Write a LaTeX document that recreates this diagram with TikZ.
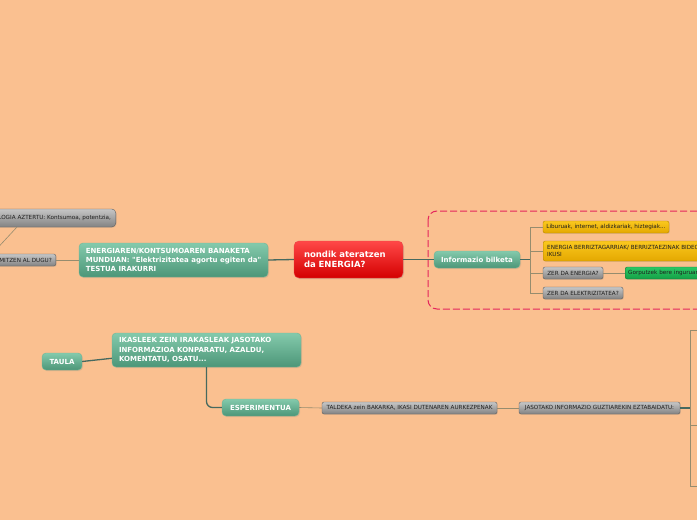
\documentclass[tikz,border=0pt]{standalone}
\usepackage{fontspec}
\setmainfont{DejaVu Sans}
\usepackage{tikz}
\usetikzlibrary{positioning,shadows}
\usepackage{xcolor}
\definecolor{paper}{RGB}{250,192,144}
\definecolor{coretop}{RGB}{255,72,72}
\definecolor{corebot}{RGB}{212,0,0}
\definecolor{coreedge}{RGB}{235,70,70}
\definecolor{topictop}{RGB}{132,202,172}
\definecolor{topicbot}{RGB}{76,150,120}
\definecolor{topicedge}{RGB}{112,182,152}
\definecolor{notetop}{RGB}{198,198,198}
\definecolor{notebot}{RGB}{130,130,130}
\definecolor{noteedge}{RGB}{95,95,95}
\definecolor{notetext}{RGB}{30,30,30}
\definecolor{goldtop}{RGB}{250,200,30}
\definecolor{goldbot}{RGB}{228,168,0}
\definecolor{goldedge}{RGB}{185,135,0}
\definecolor{leaftop}{RGB}{45,200,100}
\definecolor{leafbot}{RGB}{20,160,70}
\definecolor{leafedge}{RGB}{20,115,50}
\definecolor{trunkcol}{RGB}{70,105,95}
\definecolor{twigcol}{RGB}{150,140,110}
\definecolor{framecol}{RGB}{228,38,92}

\begin{document}
\begin{tikzpicture}[x=1pt, y=-1pt,
    mapbox/.style={rounded corners=3pt, inner xsep=3pt, inner ysep=0pt, align=center},
    corebox/.style={mapbox, rounded corners=5pt, draw=coreedge, top color=coretop, bottom color=corebot,
        text=white, font=\fontsize{8.5}{10.5}\selectfont\bfseries,
        drop shadow={opacity=0.25, shadow xshift=1pt, shadow yshift=-1pt}},
    topicbox/.style={mapbox, rounded corners=4pt, draw=topicedge, top color=topictop, bottom color=topicbot,
        text=white, font=\fontsize{7}{9.3}\selectfont\bfseries,
        drop shadow={opacity=0.2, shadow xshift=1pt, shadow yshift=-1pt}},
    notebox/.style={mapbox, rounded corners=2pt, draw=noteedge, top color=notetop, bottom color=notebot,
        text=notetext, font=\fontsize{5.65}{6.7}\selectfont,
        drop shadow={opacity=0.2, shadow xshift=0.8pt, shadow yshift=-0.8pt}},
    goldbox/.style={notebox, draw=goldedge, top color=goldtop, bottom color=goldbot},
    leafbox/.style={notebox, draw=leafedge, top color=leaftop, bottom color=leafbot},
    trunk/.style={draw=trunkcol, line width=1.3pt},
    twig/.style={draw=twigcol, line width=0.6pt}]
    % Canvas
    \fill[paper] (0,0) rectangle (697,520);
    \useasboundingbox (0,0) rectangle (697,520);
    % Frame round the research branch
    \draw[framecol, dash pattern=on 7pt off 3pt, line width=1pt, rounded corners=9pt]
        (428,211) rectangle (745,309);
    % Centre and first level
    \node[corebox, minimum width=109pt, minimum height=37pt, align=left, text width=89pt] (core)
        at (348.5,259.5) {nondik ateratzen\\da ENERGIA?};
    \node[topicbox, minimum width=189pt, minimum height=34pt, align=left] (ltopic) at (173.5,260)
        {ENERGIAREN/KONTSUMOAREN BANAKETA\\MUNDUAN: \textquotedbl Elektrizitatea agortu egiten da\textquotedbl\\TESTUA IRAKURRI};
    \node[topicbox, minimum width=86pt, minimum height=17pt] (info) at (477,259.5) {Informazio bilketa};
    % Left side
    \node[notebox, anchor=east, minimum height=12pt, text width=80pt, align=right, inner xsep=4pt] (mitzen)
        at (56,260) {MITZEN AL DUGU?};
    \node[notebox, rounded corners=4pt, anchor=east, minimum height=18pt, text width=150pt, align=right,
        inner xsep=5pt] (tech) at (116,218) {LOGIA AZTERTU: Kontsumoa, potentzia,};
    \coordinate (techfoot) at (17,227);
    \coordinate (mitzenfoot) at (-8,254);
    % Research leaves
    \node[goldbox, minimum width=126pt, minimum height=12pt] (src) at (606,227)
        {Liburuak, internet, aldizkariak, hiztegiak...};
    \node[goldbox, anchor=west, minimum height=20pt, align=left, inner xsep=4pt] (video) at (543,251)
        {ENERGIA BERRIZTAGARRIAK/ BERRIZTAEZINAK BIDEOAK\\IKUSI};
    \node[notebox, minimum width=60pt, minimum height=12pt] (qenergy) at (573,273) {ZER DA ENERGIA?};
    \node[leafbox, anchor=west, minimum height=12pt, text width=90pt, align=left] (def) at (625,273)
        {Gorputzek bere inguruan};
    \node[notebox, minimum width=80pt, minimum height=12pt] (qelec) at (583,293) {ZER DA ELEKTRIZITATEA?};
    \coordinate (infofork) at (530,259.5);
    % Lower branch
    \node[topicbox, minimum width=40pt, minimum height=17pt] (taula) at (62,361.5) {TAULA};
    \node[topicbox, minimum width=189pt, minimum height=34pt, text width=175pt, inner xsep=7pt, align=left]
        (compare) at (206.5,350)
        {IKASLEEK ZEIN IRAKASLEAK JASOTAKO\\INFORMAZIOA KONPARATU, AZALDU,\\KOMENTATU, OSATU...};
    \node[topicbox, minimum width=77pt, minimum height=17pt] (exper) at (260.5,407.5) {ESPERIMENTUA};
    \node[notebox, minimum width=175pt, minimum height=12pt] (present) at (409.5,408)
        {TALDEKA zein BAKARKA, IKASI DUTENAREN AURKEZPENAK};
    \node[notebox, minimum width=161pt, minimum height=12pt] (debate) at (599.5,408)
        {JASOTAKO INFORMAZIO GUZTIAREKIN EZTABAIDATU:};
    \coordinate (debatefork) at (690,408);
    \coordinate (leafa) at (705,330);
    \coordinate (leafb) at (705,425);
    \coordinate (leafc) at (705,486);
    % Connectors
    \draw[trunk] (ltopic.east) -- (core.west);
    \draw[trunk] (core.east) -- (info.west);
    \draw[twig] (mitzen.east) -- (ltopic.west);
    \draw[twig] (techfoot) -- (mitzenfoot);
    \draw[trunk] (info.east) -- (infofork);
    \draw[twig] (infofork) |- (src.west);
    \draw[twig] (infofork) |- (video.west);
    \draw[twig] (infofork) |- (qenergy.west);
    \draw[twig] (infofork) |- (qelec.west);
    \draw[twig] (qenergy.east) -- (def.west);
    \draw[trunk] (taula.east) -- (compare.185);
    \draw[trunk, rounded corners=6pt] (compare.south) |- (exper.west);
    \draw[twig] (exper.east) -- (present.west);
    \draw[twig] (present.east) -- (debate.west);
    \draw[trunk] (debate.east) -- (debatefork);
    \draw[twig] (debatefork) |- (leafa);
    \draw[twig] (debatefork) |- (leafb);
    \draw[twig] (debatefork) |- (leafc);
\end{tikzpicture}
\end{document}
